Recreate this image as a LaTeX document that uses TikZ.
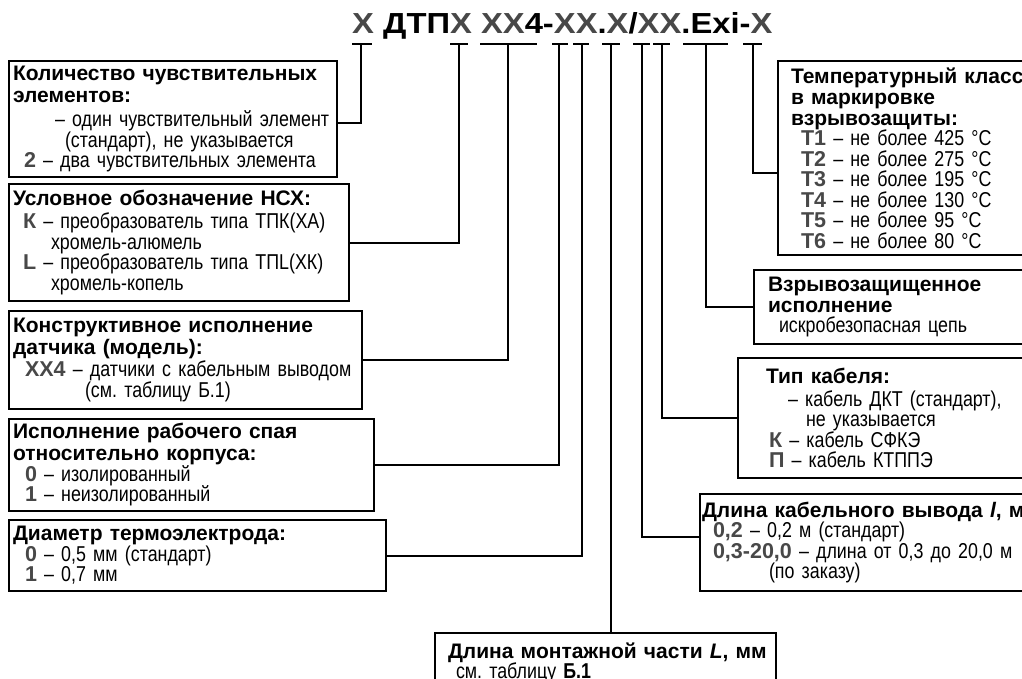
\documentclass[tikz,border=0pt]{standalone}
\usepackage{fontspec}
\setmainfont{Liberation Sans}
\newfontfamily\narrowfont[FakeStretch=0.83, WordSpace=0.85]{Liberation Sans}
\newfontfamily\codefont[FakeStretch=1.13]{Liberation Sans}
\usepackage{xcolor}
\usepackage{tikz}
\usetikzlibrary{positioning}

\definecolor{codegray}{RGB}{72,72,72}
\lineskiplimit=-20pt

\newcommand{\ttl}[1]{{\normalfont\bfseries\fontsize{21}{22}\selectfont #1}}
\newcommand{\key}[1]{{\normalfont\bfseries\color{codegray}#1}}
\newcommand{\cx}[1]{\textcolor{codegray}{#1}}

\tikzset{
  descbox/.style={draw, line width=2pt, anchor=north west, align=left,
    inner xsep=4pt, inner ysep=2pt,
    font=\narrowfont\fontsize{21.5}{20.5}\selectfont\frenchspacing},
  link/.style={line width=2pt},
}

\begin{document}
\begin{tikzpicture}[x=1pt, y=-1pt]

  \useasboundingbox (0,0) rectangle (1022,679);

  % Code line
  \node[anchor=base west, inner sep=0pt, font=\codefont\bfseries\fontsize{29}{29}\selectfont] (code) at (352,34)
    {\cx{X} ДТП\cx{X} \cx{XX}4-\cx{XX}.\cx{X}/\cx{XX}.Exi-\cx{X}};

  % Ticks under the code
  \foreach \l/\r/\m/\n in {352/372/361/1, 450/468/459/2, 480/537/508/3, 552/568/559/4,
      573/589/582/5, 602/620/611/6, 633/650/642/7, 653/670/662/8, 683/728/706/9, 743/762/753/10}{
    \draw[link] (\l,44) -- (\r,44);
    \coordinate (t\n) at (\m,44);
  }

  % Left boxes
  \node[descbox, text width=320pt, minimum height=116pt] (nsens) at (8,60) {%
    \ttl{Количество чувствительных}\\[1.5pt]
    \ttl{элементов:}\\[4pt]
    \hspace*{42pt}\mbox{– один чувствительный элемент}\\
    \hspace*{52pt}(стандарт), не указывается\\
    \hspace*{11pt}\mbox{\key{2} – два чувствительных элемента}};

  \node[descbox, text width=332pt, minimum height=117pt] (nsx) at (8,183) {%
    \ttl{Условное обозначение НСХ:}\\[3pt]
    \hspace*{10pt}\key{К} – преобразователь типа ТПК(ХА)\\
    \hspace*{38pt}хромель-алюмель\\
    \hspace*{10pt}\key{L} – преобразователь типа ТПL(ХК)\\
    \hspace*{38pt}хромель-копель};

  \node[descbox, text width=345pt, minimum height=98pt] (model) at (8,310) {%
    \ttl{Конструктивное исполнение}\\[1.5pt]
    \ttl{датчика (модель):}\\[2pt]
    \hspace*{12pt}\key{XX4} – датчики с кабельным выводом\\
    \hspace*{72pt}(см. таблицу Б.1)};

  \node[descbox, text width=357pt, minimum height=92pt] (junction) at (8,418) {%
    \ttl{Исполнение рабочего спая}\\[1.5pt]
    \ttl{относительно корпуса:}\\
    \hspace*{12pt}\key{0} – изолированный\\
    \hspace*{12pt}\key{1} – неизолированный};

  \node[descbox, text width=369pt, minimum height=71pt] (diam) at (8,519) {%
    \ttl{Диаметр термоэлектрода:}\\
    \hspace*{12pt}\key{0} – 0,5 мм (стандарт)\\
    \hspace*{12pt}\key{1} – 0,7 мм};

  \node[descbox, text width=333pt, minimum height=60pt] (mlen) at (434,632) {%
    \hspace*{9pt}\ttl{Длина монтажной части \textit{L}, мм}\\
    \hspace*{17pt}см. таблицу \textbf{Б.1}};

  % Right boxes
  \node[descbox, text width=300pt, minimum height=194pt] (tclass) at (777,60) {%
    \hspace*{9pt}\ttl{Температурный класс}\\[0.5pt]
    \hspace*{9pt}\ttl{в маркировке}\\[0.5pt]
    \hspace*{9pt}\ttl{взрывозащиты:}\\
    \hspace*{19pt}\key{T1} – не более 425 °C\\
    \hspace*{19pt}\key{T2} – не более 275 °C\\
    \hspace*{19pt}\key{T3} – не более 195 °C\\
    \hspace*{19pt}\key{T4} – не более 130 °C\\
    \hspace*{19pt}\key{T5} – не более 95 °C\\
    \hspace*{19pt}\key{T6} – не более 80 °C};

  \node[descbox, text width=300pt, minimum height=74pt] (exi) at (753,269) {%
    \hspace*{10pt}\ttl{Взрывозащищенное}\\[0.5pt]
    \hspace*{10pt}\ttl{исполнение}\\
    \hspace*{21pt}искробезопасная цепь};

  \node[descbox, text width=300pt, minimum height=120pt] (cable) at (737,357) {%
    \hspace*{24pt}\ttl{Тип кабеля:}\\[2pt]
    \hspace*{46pt}– кабель ДКТ (стандарт),\\
    \hspace*{64pt}не указывается\\
    \hspace*{27pt}\key{К} – кабель СФКЭ\\
    \hspace*{27pt}\key{П} – кабель КТППЭ};

  \node[descbox, text width=340pt, minimum height=97pt] (clen) at (699,493) {%
    \hspace*{-2pt}\ttl{Длина кабельного вывода \textit{l}, мм}\\
    \hspace*{9pt}\key{0,2} – 0,2 м (стандарт)\\
    \hspace*{9pt}\key{0,3-20,0} – длина от 0,3 до 20,0 м\\
    \hspace*{65pt}(по заказу)};

  % Connect ticks to boxes
  \draw[link] (t1) |- ([yshift=-4pt]nsens.east);
  \draw[link] (t2) |- (nsx.east);
  \draw[link] (t3) |- (model.east);
  \draw[link] (t4) |- (junction.east);
  \draw[link] (t5) |- (diam.east);
  \draw[link] (t6) -- (t6 |- mlen.north);
  \draw[link] (t7) |- ([yshift=6pt]clen.west);
  \draw[link] (t8) |- (cable.west);
  \draw[link] (t9) |- (exi.west);
  \draw[link] (t10) |- ([yshift=-15pt]tclass.west);

\end{tikzpicture}
\end{document}
